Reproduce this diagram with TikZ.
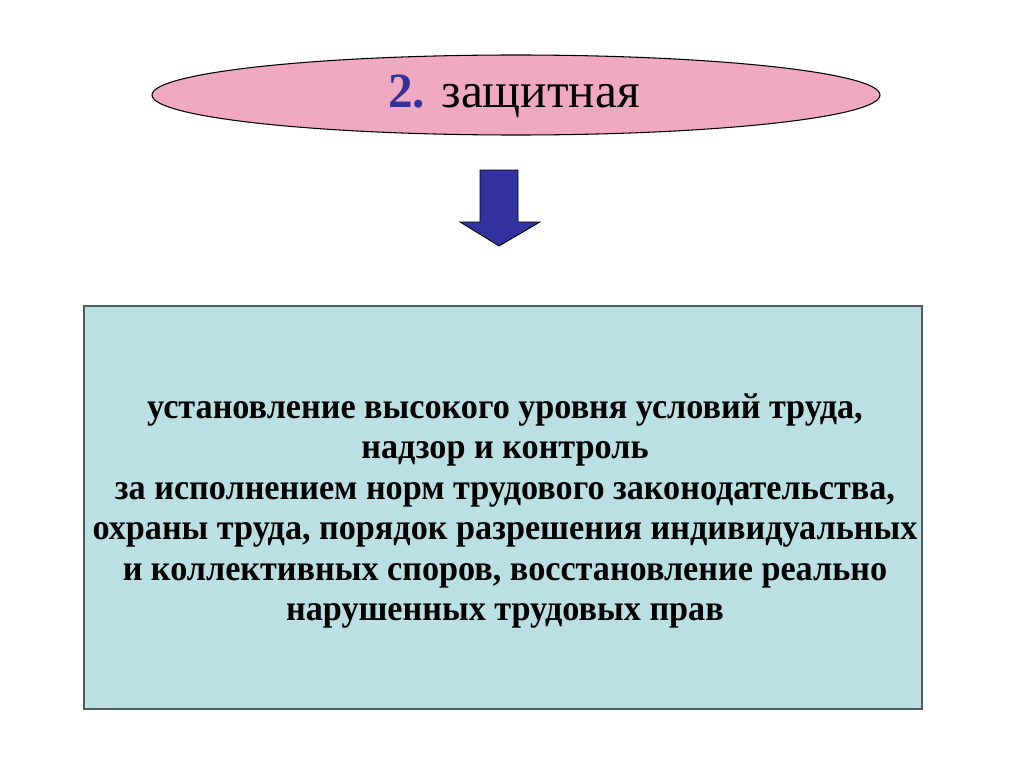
\documentclass[tikz,border=0pt]{standalone}
\usepackage{fontspec}
\setmainfont{Liberation Serif}
\usetikzlibrary{shapes.geometric,shapes.arrows}
\definecolor{ovalpink}{HTML}{F0A9C0}
\definecolor{arrowblue}{HTML}{33339F}
\definecolor{boxcyan}{HTML}{BBE0E3}
\definecolor{boxedge}{HTML}{4F5D63}
\definecolor{numblue}{HTML}{333399}
\tikzset{
  oval/.style={ellipse, draw=black, line width=0.8pt, fill=ovalpink,
    minimum width=728*0.75pt, minimum height=80*0.75pt, inner sep=0pt},
  downarrow/.style={draw=black, line width=0.6pt, fill=arrowblue},
  infobox/.style={draw=boxedge, line width=1.2pt, fill=boxcyan,
    minimum width=838*0.75pt, minimum height=403*0.75pt, inner sep=0pt},
  boxtext/.style={align=center, transform shape, xscale=0.95,
    font=\bfseries\fontsize{27}{30.4}\selectfont, inner sep=0pt},
  titletext/.style={font=\fontsize{37}{40}\selectfont, inner sep=0pt},
}
\begin{document}
\begin{tikzpicture}[x=0.75pt, y=-0.75pt]
\useasboundingbox[fill=white] (0,0) rectangle (1024,767);
\node[oval] (oval) at (516,95) {};
\node[titletext] (title) at (514,96)
  {\textcolor{numblue}{\bfseries 2.} защитная};
\draw[downarrow] (480,170) -- (518,170) -- (518,222) -- (540,222) -- (499,246)
  -- (460,222) -- (480,222) -- cycle;
\node[infobox] (box) at (503,507.5) {};
\node[boxtext] (txt) at (505,511) {установление высокого уровня условий труда,\\
надзор и контроль\\
 за исполнением норм трудового законодательства,\\
охраны труда, порядок разрешения индивидуальных\\
и коллективных споров, восстановление реально\\
нарушенных трудовых прав};
\end{tikzpicture}
\end{document}
